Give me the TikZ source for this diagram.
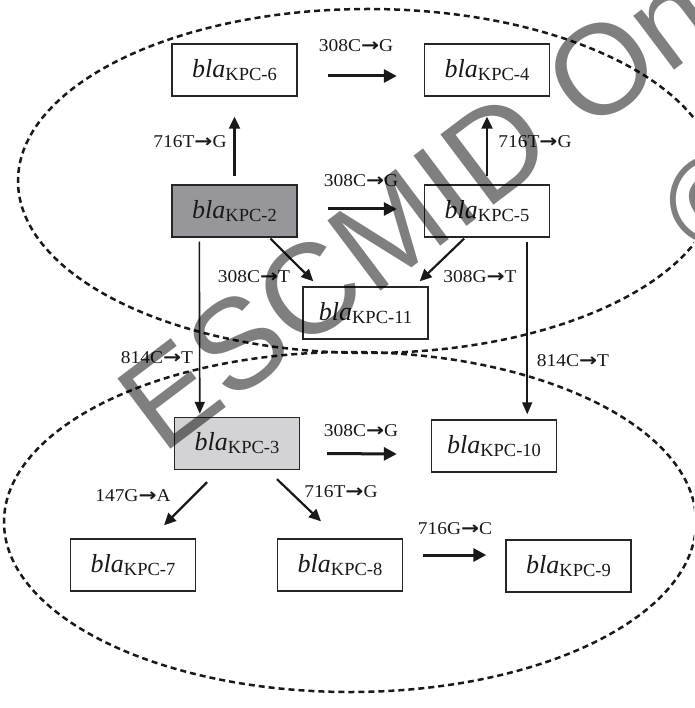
\documentclass[tikz,border=0pt]{standalone}
\usepackage{fontspec}
\setmainfont{Liberation Serif}
\newfontfamily\labfont[FakeStretch=1.08]{Liberation Serif}
\newfontfamily\arrfont[FakeStretch=1.2]{DejaVu Sans}
\newfontfamily\wmfont{Liberation Sans}
\usetikzlibrary{calc,arrows.meta}
\definecolor{darkfill}{HTML}{97979B}
\definecolor{lightfill}{HTML}{D3D3D5}
\newcommand\kpc[1]{\textit{bla}\raisebox{-3pt}{\fontsize{18.5}{20}\selectfont KPC-#1}}
\newcommand\rarr{{\arrfont\bfseries →}}
\begin{document}
\begin{tikzpicture}[x=1pt,y=-1pt,
  kbox/.style={draw=black!85, line width=1.4pt, fill=white, minimum width=125pt, minimum height=52pt, inner sep=0pt, font=\fontsize{26}{28}\selectfont, text=black!90},
  harr/.style={-{Triangle[length=13pt,width=13pt]}, line width=3pt, draw=black!90},
  darr/.style={-{Triangle[length=12pt,width=11pt]}, line width=2.2pt, draw=black!90},
  varr/.style={-{Triangle[length=12pt,width=10pt]}, line width=1.6pt, draw=black!90},
  mlab/.style={font=\labfont\fontsize{18}{20}\selectfont, text=black!90, inner sep=0pt},
  oval/.style={dash pattern=on 6pt off 4pt, line width=2.5pt, draw=black!90},
  wmark/.style={rotate=37, inner sep=0pt, text=black, opacity=0.5, font=\wmfont\fontsize{128}{130}\selectfont}
]
\useasboundingbox (0,0) rectangle (694,708);
\clip (0,0) rectangle (694,708);
\fill[white] (0,0) rectangle (694,708);

% groups
\draw[oval] (368,181) ellipse [x radius=350pt, y radius=172pt];
\draw[oval] (350,522) ellipse [x radius=346pt, y radius=170pt];

% boxes
\node[kbox] (K6) at (234.5,70) {\kpc{6}};
\node[kbox] (K4) at (487,70) {\kpc{4}};
\node[kbox, fill=darkfill] (K2) at (234.5,211) {\kpc{2}};
\node[kbox] (K5) at (487,211) {\kpc{5}};
\node[kbox] (K11) at (365.5,313) {\kpc{11}};
\node[kbox, fill=lightfill] (K3) at (237,443.5) {\kpc{3}};
\node[kbox] (K10) at (494,446) {\kpc{10}};
\node[kbox] (K7) at (133,565) {\kpc{7}};
\node[kbox] (K8) at (340,565) {\kpc{8}};
\node[kbox] (K9) at (568.5,566) {\kpc{9}};

% connectors
\draw[harr] ($(K6.east)+(30,6)$) -- ($(K4.west)+(-27,6)$);
\draw[darr] ($(K2.north)+(0,-8)$) -- ($(K6.south)+(0,20)$);
\draw[darr] ($(K5.north)+(0,-8)$) -- ($(K4.south)+(0,20)$);
\draw[harr] ($(K2.east)+(30,-2)$) -- ($(K5.west)+(-27,-2)$);
\draw[darr] ($(K2.south)+(36,1)$) -- ($(K11.north west)+(11,-5)$);
\draw[darr] ($(K5.south)+(-23,1)$) -- ($(K11.north east)+(-9,-5)$);
\draw[varr] ($(K2.south west)+(28,4)$) -- ($(K3.north west)+(26,-3)$);
\draw[varr] ($(K5.south east)+(-23,4)$) -- ($(K10.north east)+(-30,-5)$);
\draw[harr] ($(K3.east)+(27,10)$) -- ($(K10.west)+(-34,8)$);
\draw[darr] ($(K3.south)+(-30,12)$) -- ($(K7.north)+(31,-13)$);
\draw[darr] ($(K3.south)+(40,9)$) -- ($(K8.north)+(-19,-17)$);
\draw[harr] ($(K8.east)+(20,-10)$) -- ($(K9.west)+(-19,-11)$);

% labels
\node[mlab] (l1) at (356,46) {308C\rarr G};
\node[mlab] (l2) at (361,181) {308C\rarr G};
\node[mlab] (l3) at (190,142) {716T\rarr G};
\node[mlab] (l4) at (535,142) {716T\rarr G};
\node[mlab] (l5) at (254,277) {308C\rarr T};
\node[mlab] (l6) at (480,277) {308G\rarr T};
\node[mlab] (l7) at (157,358) {814C\rarr T};
\node[mlab] (l8) at (573,361) {814C\rarr T};
\node[mlab] (l9) at (361,431) {308C\rarr G};
\node[mlab] (l10) at (133,496) {147G\rarr A};
\node[mlab] (l11) at (341,492) {716T\rarr G};
\node[mlab] (l12) at (455,529) {716G\rarr C};

% watermark
\node[wmark, anchor=base west] (wm) at (162,456) {ESCMID Online};
\node[wmark] (wmc) at (716,200) {©};
\end{tikzpicture}
\end{document}
